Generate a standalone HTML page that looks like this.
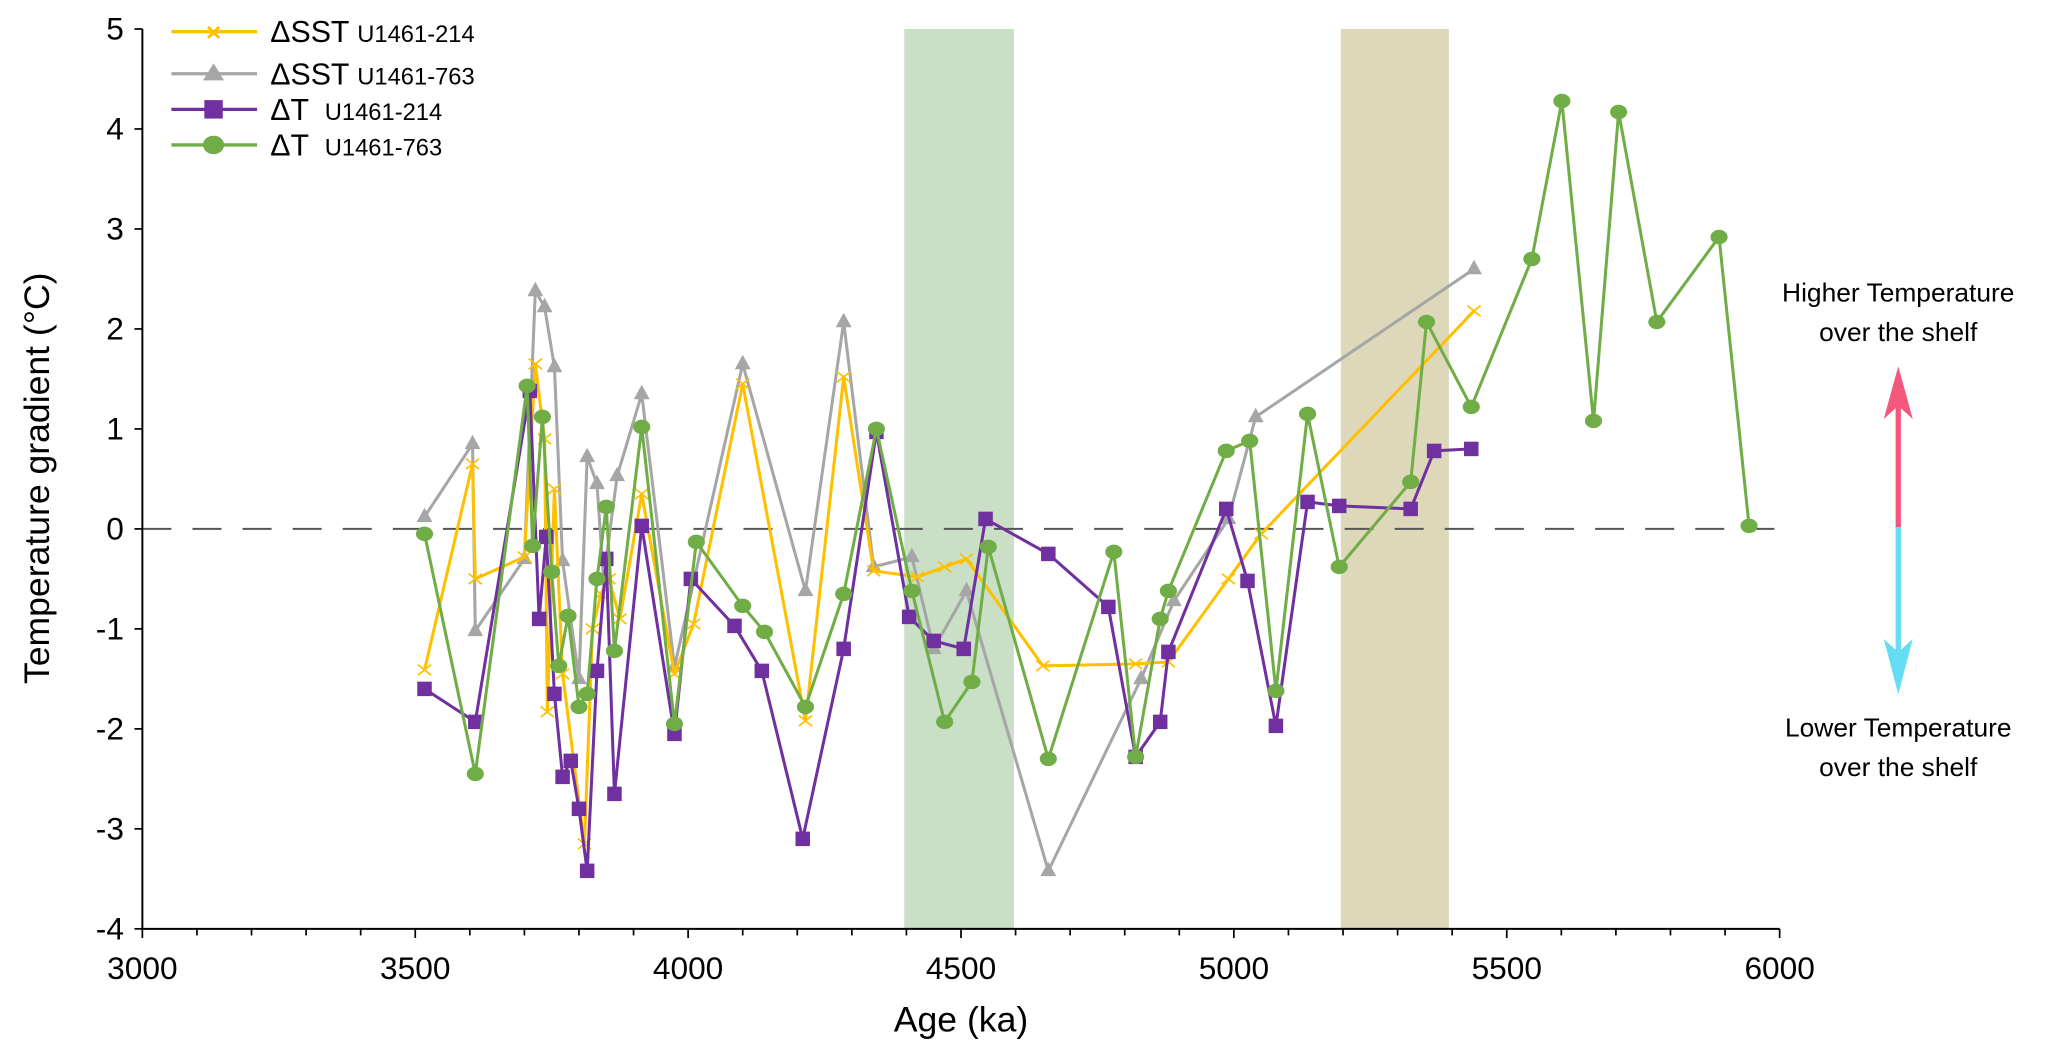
<!DOCTYPE html>
<html><head><meta charset="utf-8"><style>
html,body{margin:0;padding:0;background:#fff;}
svg{display:block;font-family:"Liberation Sans",Arial,sans-serif;}
</style></head><body>
<svg id="chart" width="2067" height="1054" viewBox="0 0 1568 800" preserveAspectRatio="none" xmlns="http://www.w3.org/2000/svg">
<g id="bands"></g>
<g id="axes"></g>
<g id="series"></g>
<g id="legend">
  <line x1="130" y1="24" x2="195" y2="24" stroke="#ffc000" stroke-width="2.5"/>
  <text x="162" y="31" text-anchor="middle" font-size="20" fill="#ffc000" font-weight="bold">×</text>
  <text x="205" y="32" font-size="23">ΔSST <tspan font-size="18">U1461-214</tspan></text>
  <line x1="130" y1="56" x2="195" y2="56" stroke="#a6a6a6" stroke-width="2.5"/>
  <polygon points="162,48 170,61 154,61" fill="#a6a6a6"/>
  <text x="205" y="64" font-size="23">ΔSST <tspan font-size="18">U1461-763</tspan></text>
  <line x1="130" y1="83" x2="195" y2="83" stroke="#7030a0" stroke-width="2.5"/>
  <rect x="155" y="76" width="14" height="14" fill="#7030a0"/>
  <text x="205" y="91" font-size="23">ΔT <tspan font-size="18" dx="6">U1461-214</tspan></text>
  <line x1="130" y1="110" x2="195" y2="110" stroke="#70ad47" stroke-width="2.5"/>
  <ellipse cx="162" cy="110" rx="8" ry="7" fill="#70ad47"/>
  <text x="205" y="118" font-size="23">ΔT <tspan font-size="18" dx="6">U1461-763</tspan></text>
</g>
<g>
  <text x="1440" y="229" text-anchor="middle" font-size="20">Higher Temperature</text>
  <text x="1440" y="259" text-anchor="middle" font-size="20">over the shelf</text>
  <line x1="1440" y1="400" x2="1440" y2="300" stroke="#f4577c" stroke-width="4"/>
  <polygon points="1440,278 1451,318 1440,308 1429,318" fill="#f4577c"/>
  <line x1="1440" y1="400" x2="1440" y2="505" stroke="#66ddf2" stroke-width="4"/>
  <polygon points="1440,527 1451,485 1440,495 1429,485" fill="#66ddf2"/>
  <text x="1440" y="559" text-anchor="middle" font-size="20">Lower Temperature</text>
  <text x="1440" y="589" text-anchor="middle" font-size="20">over the shelf</text>
</g>
</svg>
<script>
const xTicks=[3000,3500,4000,4500,5000,5500,6000];
const yTicks=[-4,-3,-2,-1,0,1,2,3,4,5];
const bandStarts=[4396,5196];
const bandEnds=[4597,5394];
const sstAge214=[3517,3605,3610,3700,3720,3737,3742,3755,3770,3810,3825,3840,3855,3875,3915,3975,4010,4100,4215,4285,4340,4420,4470,4510,4650,4820,4880,4990,5050,5440];
const sstVal214=[-1.41,0.65,-0.5,-0.28,1.65,0.9,-1.83,0.4,-1.45,-3.15,-1.0,-0.65,-0.5,-0.9,0.35,-1.45,-0.95,1.45,-1.92,1.52,-0.42,-0.48,-0.38,-0.3,-1.37,-1.35,-1.33,-0.5,-0.05,2.18];
const sstAge763=[3517,3605,3610,3700,3720,3737,3755,3770,3800,3815,3833,3845,3870,3915,3975,4100,4215,4285,4340,4410,4450,4510,4660,4830,4890,4990,5040,5440];
const sstVal763=[0.12,0.85,-1.02,-0.3,2.38,2.22,1.62,-0.32,-1.5,0.72,0.45,-0.5,0.53,1.35,-1.38,1.65,-0.62,2.07,-0.38,-0.28,-1.2,-0.62,-3.42,-1.5,-0.72,0.1,1.12,2.6];
const tAge214=[3517,3610,3710,3727,3740,3755,3770,3785,3800,3815,3833,3850,3865,3915,3975,4005,4085,4135,4210,4285,4345,4405,4450,4505,4545,4660,4770,4820,4865,4880,4986,5025,5077,5135,5193,5324,5367,5435];
const tVal214=[-1.6,-1.93,1.38,-0.9,-0.08,-1.65,-2.48,-2.32,-2.8,-3.42,-1.42,-0.3,-2.65,0.03,-2.05,-0.5,-0.97,-1.42,-3.1,-1.2,0.97,-0.88,-1.12,-1.2,0.1,-0.25,-0.78,-2.28,-1.93,-1.23,0.2,-0.52,-1.97,0.27,0.23,0.2,0.78,0.8];
const tAge763=[3517,3610,3705,3715,3733,3750,3763,3780,3800,3815,3833,3850,3865,3915,3975,4015,4100,4140,4215,4285,4345,4410,4470,4520,4550,4660,4780,4820,4865,4880,4986,5029,5077,5135,5193,5324,5353,5435,5546,5601,5659,5705,5775,5889,5944];
const tVal763=[-0.05,-2.45,1.43,-0.17,1.12,-0.43,-1.37,-0.87,-1.78,-1.65,-0.5,0.22,-1.22,1.02,-1.95,-0.13,-0.77,-1.03,-1.78,-0.65,1.0,-0.62,-1.93,-1.53,-0.18,-2.3,-0.23,-2.28,-0.9,-0.62,0.78,0.88,-1.62,1.15,-0.38,0.47,2.07,1.22,2.7,4.28,1.08,4.17,2.07,2.92,0.03];

const NS="http://www.w3.org/2000/svg";
const X=a=>108+(a-3000)/3000*1242;
const Y=v=>22+(5-v)/9*683;
function mk(tag,attrs,parent){const e=document.createElementNS(NS,tag);for(const k in attrs)e.setAttribute(k,attrs[k]);parent.appendChild(e);return e;}
const bands=document.getElementById('bands');
const bandColors=['#c9e0c6','#dcd8b9'];
for(let i=0;i<bandStarts.length;i++){
  const r=mk('rect',{x:X(bandStarts[i]),y:Y(5),width:X(bandEnds[i])-X(bandStarts[i]),height:Y(-4)-Y(5),fill:bandColors[i]},bands);
  
  
}
const axes=document.getElementById('axes');
mk('line',{x1:X(3000),y1:Y(0),x2:X(6000),y2:Y(0),stroke:'#555','stroke-width':1.5,'stroke-dasharray':'22,16'},axes);
const yAx=mk('line',{x1:X(3000),y1:Y(5),x2:X(3000),y2:Y(-4),stroke:'#000','stroke-width':1.5},axes);


const xAx=mk('line',{x1:X(3000),y1:Y(-4),x2:X(6000),y2:Y(-4),stroke:'#000','stroke-width':1.5},axes);


for(let a=3000;a<=6000;a+=100){mk('line',{x1:X(a),y1:Y(-4),x2:X(a),y2:Y(-4)+(a%500===0?7:5),stroke:'#000','stroke-width':1.3},axes);}
xTicks.forEach(t=>{const e=mk('text',{x:X(t),y:Y(-4)+38,'text-anchor':'middle','font-size':24},axes);e.textContent=t;

});
yTicks.forEach(t=>{mk('line',{x1:X(3000)-6,y1:Y(t),x2:X(3000),y2:Y(t),stroke:'#000','stroke-width':1.3},axes);
const e=mk('text',{x:X(3000)-14,y:Y(t)+8,'text-anchor':'end','font-size':24},axes);e.textContent=t;

});
const xt=mk('text',{x:729,y:783,'text-anchor':'middle','font-size':27},axes);xt.textContent='Age (ka)';


const yt=mk('text',{x:0,y:0,transform:'translate(37,363) rotate(-90)','text-anchor':'middle','font-size':27},axes);yt.textContent='Temperature gradient (°C)';



const ser=document.getElementById('series');
function draw(ages,vals,color,marker,name){
  const g=mk('g',{},ser);
  
  
  mk('polyline',{points:ages.map((a,i)=>X(a)+','+Y(vals[i])).join(' '),fill:'none',stroke:color,'stroke-width':2.3,'stroke-linejoin':'round'},g);
  ages.forEach((a,i)=>{const x=X(a),y=Y(vals[i]);let m;
    if(marker==='x'){m=mk('path',{d:`M${x-5},${y-4}L${x+5},${y+4}M${x-5},${y+4}L${x+5},${y-4}`,stroke:color,'stroke-width':1.3},g);}
    else if(marker==='tri'){m=mk('polygon',{points:`${x},${y-7} ${x+6},${y+4} ${x-6},${y+4}`,fill:color},g);}
    else if(marker==='sq'){m=mk('rect',{x:x-5.5,y:y-5.5,width:11,height:11,fill:color},g);}
    else {m=mk('ellipse',{cx:x,cy:y,rx:6.5,ry:5.5,fill:color},g);}
    
    
  });
}
draw(sstAge763,sstVal763,'#a6a6a6','tri','series-dsst-763');
draw(sstAge214,sstVal214,'#ffc000','x','series-dsst-214');
draw(tAge214,tVal214,'#7030a0','sq','series-dt-214');
draw(tAge763,tVal763,'#70ad47','circ','series-dt-763');
</script>
</body></html>
